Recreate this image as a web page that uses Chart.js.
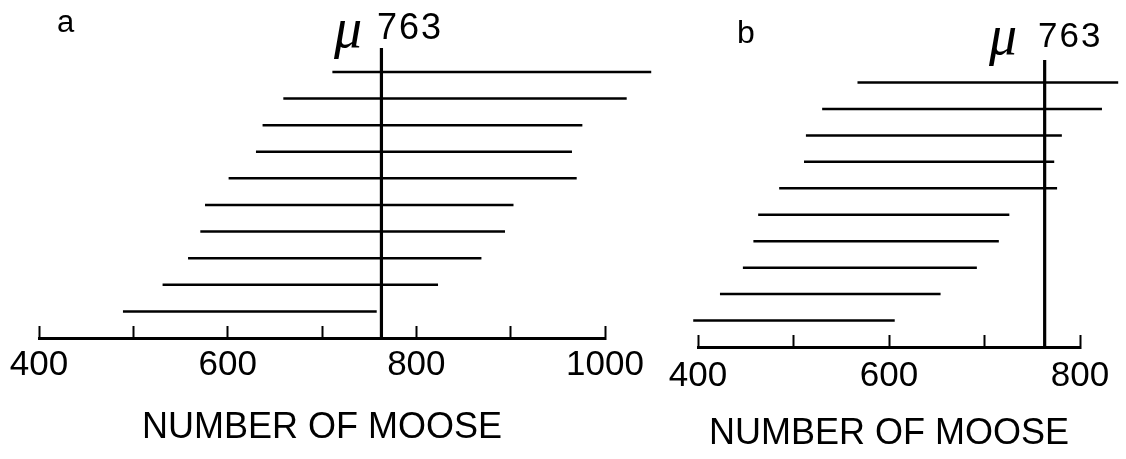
<!DOCTYPE html>
<html>
<head>
<meta charset="utf-8">
<script src="https://cdn.jsdelivr.net/npm/chart.js@4.4.1/dist/chart.umd.min.js"></script>
<style>
  body { margin: 0; background: #fff; width: 1126px; height: 459px; overflow: hidden; position: relative;
         font-family: "Liberation Sans", Arial, sans-serif; color: #000; }
  canvas { position: absolute; top: 0; }
  #chartA { left: 0; }
  #chartB { left: 660px; }
  .lbl { position: absolute; line-height: 0; white-space: nowrap; }
  .mu { font-family: "Liberation Serif", serif; font-style: italic; }
</style>
</head>
<body>
<canvas id="chartA" width="660" height="459"></canvas>
<canvas id="chartB" width="466" height="459"></canvas>

<div class="lbl" style="left:57px; top:22px; font-size:31px;">a</div>
<div class="lbl mu" style="left:334px; top:28px; font-size:56px;">μ</div>
<div class="lbl" style="left:377px; top:27px; font-size:36px; letter-spacing:2px;">763</div>

<div class="lbl" style="left:737px; top:32px; font-size:32px;">b</div>
<div class="lbl mu" style="left:989px; top:35px; font-size:56px;">μ</div>
<div class="lbl" style="left:1038px; top:35px; font-size:35px; letter-spacing:2px;">763</div>

<script>
// population mean
const MU = 763;

// panel a: interval limits, top row first
const lowA  = [711, 659, 637, 630, 601, 576, 571, 558, 531, 489];
const highA = [1049, 1023, 976, 965, 970, 903, 894, 869, 823, 758];
const tickLabelsA = ['400', '600', '800', '1000'];

// panel b: interval limits, top row first
const lowB  = [567, 530, 513, 511, 485, 463, 458, 447, 423, 395];
const highB = [840, 823, 781, 773, 776, 726, 715, 692, 654, 606];
const tickLabelsB = ['400', '600', '800'];

const axisTitle = 'NUMBER OF MOOSE';

function makeChart(id, low, high, xMin, xMax, tickLabels, opts) {
  const n = low.length;
  const datasets = low.map((lo, i) => ({
    data: [{ x: lo, y: n - i }, { x: high[i], y: n - i }],
    borderWidth: 2.5
  }));
  // vertical line at the mean
  datasets.push({
    data: [{ x: MU, y: 0 }, { x: MU, y: opts.yMax }],
    borderWidth: 3.2
  });
  datasets.forEach(d => {
    d.showLine = true;
    d.borderColor = '#000';
    d.pointRadius = 0;
    d.clip = false;
  });

  return new Chart(document.getElementById(id), {
    type: 'scatter',
    data: { datasets: datasets },
    options: {
      responsive: false,
      animation: false,
      layout: { padding: { left: opts.left, right: opts.right, top: opts.top, bottom: 0 } },
      plugins: { legend: { display: false }, tooltip: { enabled: false } },
      scales: {
        x: {
          type: 'linear',
          min: xMin,
          max: xMax,
          // fixed axis height, and no extra room for the end labels
          afterFit: s => { s.height = opts.axisHeight; s.paddingLeft = 0; s.paddingRight = 0; },
          border: { display: true, color: '#000', width: 3 },
          grid: { display: true, drawOnChartArea: false, drawTicks: true, tickLength: -12, tickWidth: 2, tickColor: '#000' },
          ticks: {
            stepSize: 100,
            autoSkip: false,
            maxRotation: 0,
            padding: opts.tickPad,
            color: '#000',
            font: { family: '"Liberation Sans", Arial, sans-serif', size: 35 },
            callback: v => tickLabels.includes(String(v)) ? String(v) : ''
          },
          title: {
            display: true,
            text: axisTitle,
            color: '#000',
            font: { family: '"Liberation Sans", Arial, sans-serif', size: 36 },
            padding: { top: 0, bottom: opts.titlePad }
          }
        },
        y: { type: 'linear', display: false, min: 0, max: opts.yMax }
      }
    }
  });
}

makeChart('chartA', lowA, highA, 400, 1000, tickLabelsA,
  { left: 39, right: 55, top: 48, axisHeight: 121, yMax: 10.9, tickPad: 18, titlePad: 9 });
makeChart('chartB', lowB, highB, 400, 800, tickLabelsB,
  { left: 38, right: 46, top: 60, axisHeight: 112, yMax: 10.85, tickPad: 20, titlePad: 3 });
</script>
</body>
</html>
